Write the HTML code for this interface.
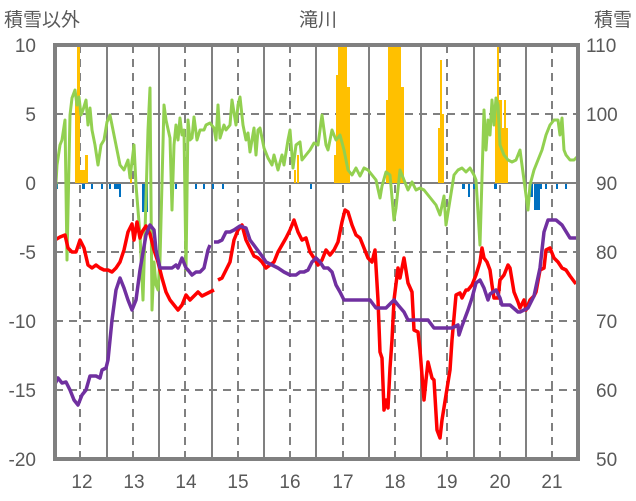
<!DOCTYPE html>
<html><head><meta charset="utf-8"><style>
html,body{margin:0;padding:0;background:#fff;}
svg{display:block;font-family:"Liberation Sans","Noto Sans CJK JP",sans-serif;}
</style></head><body>
<svg width="636" height="501" viewBox="0 0 636 501" xmlns="http://www.w3.org/2000/svg">
<rect width="636" height="501" fill="#fff"/>
<g stroke="#808080" stroke-width="2">
<line x1="107" y1="45" x2="107" y2="459"/><line x1="159" y1="45" x2="159" y2="459"/><line x1="212" y1="45" x2="212" y2="459"/><line x1="264" y1="45" x2="264" y2="459"/><line x1="316" y1="45" x2="316" y2="459"/><line x1="369" y1="45" x2="369" y2="459"/><line x1="421" y1="45" x2="421" y2="459"/><line x1="474" y1="45" x2="474" y2="459"/><line x1="526" y1="45" x2="526" y2="459"/>
</g>
<g stroke="#808080" stroke-width="2" stroke-dasharray="8,6">
<line x1="80" y1="45" x2="80" y2="459"/><line x1="133" y1="45" x2="133" y2="459"/><line x1="185" y1="45" x2="185" y2="459"/><line x1="238" y1="45" x2="238" y2="459"/><line x1="290" y1="45" x2="290" y2="459"/><line x1="343" y1="45" x2="343" y2="459"/><line x1="395" y1="45" x2="395" y2="459"/><line x1="447" y1="45" x2="447" y2="459"/><line x1="500" y1="45" x2="500" y2="459"/><line x1="552" y1="45" x2="552" y2="459"/>
<line x1="55" y1="114" x2="578" y2="114"/><line x1="55" y1="252" x2="578" y2="252"/><line x1="55" y1="321" x2="578" y2="321"/><line x1="55" y1="390" x2="578" y2="390"/>
</g>
<line x1="55" y1="183" x2="578" y2="183" stroke="#808080" stroke-width="2"/>
<g fill="#FFC000">
<rect x="75" y="100" width="4" height="83"/><rect x="77" y="45" width="3" height="138"/><rect x="79" y="170" width="3" height="13"/><rect x="82" y="170" width="3" height="13"/><rect x="85" y="155" width="3" height="28"/>
<rect x="130" y="170" width="2" height="13"/>
<rect x="294" y="170" width="2" height="13"/><rect x="297" y="155" width="2" height="28"/>
<rect x="334" y="155" width="3" height="28"/><rect x="336" y="75" width="3" height="108"/><rect x="338" y="45" width="9" height="138"/><rect x="347" y="87" width="3" height="96"/>
<rect x="386" y="100" width="3" height="83"/><rect x="388" y="45" width="13" height="138"/><rect x="401" y="87" width="3" height="96"/>
<rect x="438" y="128" width="3" height="55"/><rect x="440" y="60" width="2" height="123"/><rect x="442" y="114" width="2" height="69"/>
<rect x="495" y="100" width="3" height="83"/><rect x="497" y="45" width="2" height="138"/><rect x="499" y="100" width="3" height="83"/><rect x="502" y="128" width="2" height="55"/><rect x="504" y="100" width="2" height="83"/><rect x="506" y="128" width="2" height="55"/>
</g>
<g fill="#0070C0">
<rect x="56" y="184" width="2" height="5"/><rect x="82" y="184" width="3" height="5"/><rect x="91" y="184" width="2" height="5"/><rect x="101" y="184" width="2" height="5"/><rect x="109" y="184" width="2" height="5"/><rect x="114" y="184" width="6" height="5"/><rect x="119" y="184" width="2" height="13"/><rect x="142" y="184" width="6" height="28"/><rect x="170" y="184" width="2" height="5"/><rect x="175" y="184" width="2" height="5"/><rect x="195" y="184" width="2" height="5"/><rect x="203" y="184" width="2" height="5"/><rect x="212" y="184" width="2" height="5"/><rect x="222" y="184" width="2" height="5"/><rect x="310" y="184" width="2" height="5"/>
<rect x="462" y="184" width="3" height="5"/><rect x="468" y="184" width="2" height="13"/><rect x="473" y="184" width="2" height="5"/><rect x="494" y="184" width="3" height="5"/><rect x="530" y="184" width="3" height="13"/><rect x="534" y="184" width="6" height="26"/><rect x="540" y="184" width="2" height="5"/><rect x="545" y="184" width="2" height="5"/><rect x="556" y="184" width="2" height="5"/><rect x="565" y="184" width="2" height="5"/>
</g>
<polyline fill="none" stroke="#92D050" stroke-width="3" stroke-linejoin="round" points="55,200 57,165 60,145 62,140 65,120 67,260 70,115 72,98 75,90 77,105 79,97 81,115 83,110 86,100 88,125 90,108 92,130 95,145 98,165 101,145 104,140 107,122 110,115 113,130 116,145 120,165 124,170 128,160 130,178 134,145 136,185 140,235 143,300 148,130 150,88 152,310 154,262 156,285 158,290 160,260 164,105 166,120 170,138 172,210 174,145 176,125 178,140 180,118 182,135 184,130 186,270 188,120 190,140 192,138 194,117 197,140 200,130 204,130 206,125 210,123 214,128 216,140 218,105 220,138 224,125 226,130 230,125 232,100 236,125 238,105 240,97 243,125 246,140 248,133 250,152 252,140 254,128 256,155 258,130 260,128 264,148 268,158 272,165 274,155 278,170 282,155 284,165 288,140 290,130 293,168 296,145 300,142 302,160 306,155 310,150 314,143 318,145 322,115 326,145 328,150 332,130 336,140 340,135 344,150 346,160 348,170 352,175 356,168 360,176 364,168 368,170 372,175 376,180 380,198 382,186 386,172 390,175 394,220 396,208 400,170 404,180 408,190 412,182 416,190 420,188 424,190 428,195 432,200 436,205 440,215 444,196 446,225 450,200 454,175 458,170 462,168 466,172 470,168 474,175 476,180 480,245 484,110 486,150 488,120 490,135 492,100 494,125 496,98 498,105 500,145 504,155 508,160 512,162 516,160 520,150 524,180 528,210 530,185 534,170 538,160 542,150 546,135 550,125 554,120 558,120 560,135 562,118 564,150 566,155 570,160 574,160 578,156"/>
<polyline fill="none" stroke="#FF0000" stroke-width="3.5" stroke-linejoin="round" points="55,240 60,237 65,235 68,248 72,252 76,252 80,240 84,248 88,265 92,268 96,265 100,268 104,270 108,270 112,272 116,268 120,262 124,250 128,232 132,224 134,240 137,222 140,238 142,232 146,226 150,234 154,250 158,262 162,278 166,292 170,300 174,305 178,310 182,305 186,295 190,300 194,296 198,292 202,296 206,294 210,292 214,290"/>
<polyline fill="none" stroke="#FF0000" stroke-width="3.5" stroke-linejoin="round" points="218,280 222,278 226,270 230,262 234,240 238,230 242,225 246,240 250,248 254,256 258,258 262,262 266,268 270,265 274,262 278,252 282,245 286,238 290,230 294,220 298,232 302,240 306,238 310,252 314,258 318,265 322,260 326,250 330,255 334,250 338,242 342,222 345,210 348,212 352,225 356,235 360,238 364,248 368,258 372,262 375,250 378,300 380,352 382,358 384,410 386,400 388,408 390,368 392,340 394,300 398,268 400,278 404,258 408,283 412,292 414,330 418,332 420,350 424,400 426,380 428,362 432,378 434,380 437,430 440,438 442,420 446,395 450,370 452,340 456,295 460,293 462,298 466,290 468,290 472,285 476,275 480,262 482,248 484,258 487,262 490,270 492,285 494,298 498,298 500,280 504,275 508,265 510,268 512,280 514,292 518,302 520,308 524,300 526,310 530,300 534,296 536,292 540,270 544,268 546,250 550,248 554,258 558,262 562,268 566,270 570,276 576,284"/>
<polyline fill="none" stroke="#7030A0" stroke-width="3.5" stroke-linejoin="round" points="55,384 58,378 62,383 66,382 70,390 74,400 78,405 82,395 86,390 90,376 96,376 100,378 102,370 106,368 108,360 112,320 116,290 120,278 124,288 128,300 132,310 136,300 140,270 146,235 150,225 154,230 156,250 160,268 166,268 172,268 176,265 178,268 182,258 186,268 188,270 192,275 196,272 200,272 204,268 208,250 210,245"/>
<polyline fill="none" stroke="#7030A0" stroke-width="3.5" stroke-linejoin="round" points="214,242 218,242 222,240 226,232 230,232 234,230 240,226 246,228 250,240 256,248 262,256 266,262 272,265 278,268 284,272 290,275 296,275 300,272 304,272 308,270 312,262 316,258 320,262 324,268 328,268 332,272 336,285 340,292 344,300 354,300 362,300 370,300 376,308 378,308 386,308 394,300 398,305 404,312 408,320 428,320 434,328 452,328 458,325 459,335 462,326 468,310 472,298 476,283 480,280 484,288 488,300 490,294 496,290 500,298 502,305 510,305 518,312 520,312 528,308 534,296 540,268 544,232 548,220 556,220 562,225 570,238 578,238"/>
<rect x="55" y="45" width="523" height="414" fill="none" stroke="#808080" stroke-width="4"/>
<g fill="#595959" font-size="19">
<text x="4" y="26">積雪以外</text>
<text x="318" y="26" text-anchor="middle">滝川</text>
<text x="632" y="26" text-anchor="end">積雪</text>
</g>
<g fill="#595959" font-size="19" text-anchor="end">
<text x="36" y="52">10</text><text x="36" y="121">5</text><text x="36" y="190">0</text><text x="36" y="259">-5</text><text x="36" y="328">-10</text><text x="36" y="397">-15</text><text x="36" y="466">-20</text>
</g>
<g fill="#595959" font-size="19">
<text x="586" y="52">110</text><text x="586" y="121">100</text><text x="596" y="190">90</text><text x="596" y="259">80</text><text x="596" y="328">70</text><text x="596" y="397">60</text><text x="596" y="466">50</text>
</g>
<g fill="#595959" font-size="19" text-anchor="middle">
<text x="82" y="488">12</text><text x="134" y="488">13</text><text x="186" y="488">14</text><text x="238" y="488">15</text><text x="290" y="488">16</text><text x="343" y="488">17</text><text x="395" y="488">18</text><text x="447" y="488">19</text><text x="500" y="488">20</text><text x="552" y="488">21</text>
</g>
</svg>
</body></html>
